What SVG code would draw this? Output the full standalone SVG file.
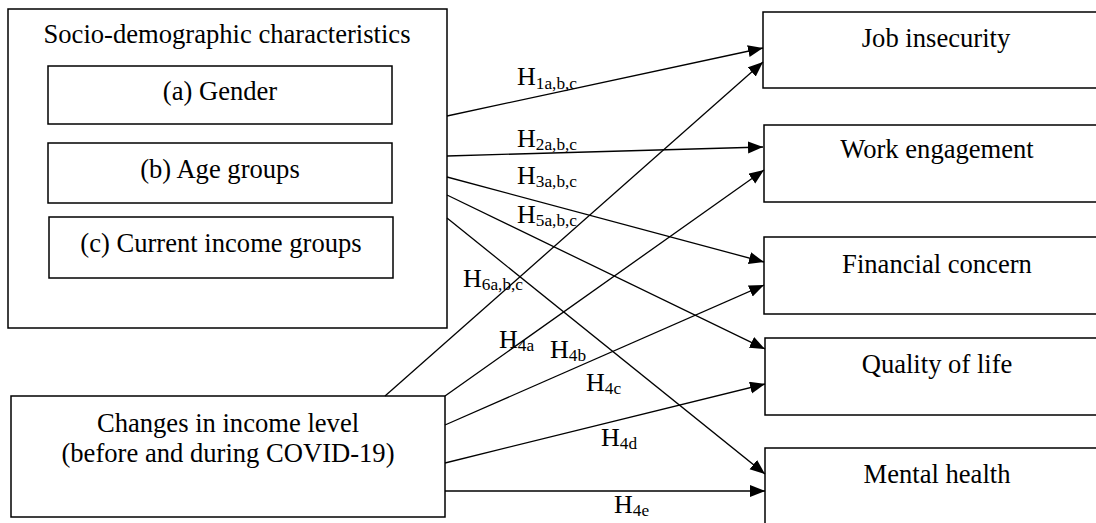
<svg xmlns="http://www.w3.org/2000/svg" width="1096" height="523" viewBox="0 0 1096 523">
<style>
.box{fill:#fff;stroke:#000;stroke-width:1.5}
.t{font-family:'Liberation Serif','Times New Roman',Times,'DejaVu Serif',serif;font-size:26.6px;fill:#000;text-anchor:middle}
.h{font-family:'Liberation Serif','Times New Roman',Times,'DejaVu Serif',serif;font-size:26px;fill:#000}
.s{font-size:17.3px}
.c{fill:none;stroke:#000;stroke-width:1.3;marker-end:url(#ah)}
</style>
<defs>
<marker id="ah" markerUnits="userSpaceOnUse" markerWidth="16" markerHeight="13" refX="15" refY="6" orient="auto">
<path d="M0,0 L15,6 L0,12 z" fill="#000"/>
</marker>
</defs>
<rect width="1096" height="523" fill="#fff"/>
<g id="socio">
<rect class="box" x="8" y="9" width="439" height="319"/>
<text class="t" x="227" y="43">Socio-demographic characteristics</text>
</g>
<g id="gender">
<rect class="box" x="48" y="66" width="344" height="58"/>
<text class="t" x="220" y="100">(a) Gender</text>
</g>
<g id="age">
<rect class="box" x="48" y="143" width="344" height="60"/>
<text class="t" x="220" y="178">(b) Age groups</text>
</g>
<g id="income">
<rect class="box" x="49" y="217" width="344" height="61"/>
<text class="t" x="221" y="252">(c) Current income groups</text>
</g>
<g id="changes">
<rect class="box" x="11" y="396" width="434" height="121"/>
<text class="t" x="228" y="432">Changes in income level</text>
<text class="t" x="228" y="462">(before and during COVID-19)</text>
</g>
<g id="job">
<rect class="box" x="763" y="12" width="350" height="76"/>
<text class="t" x="936" y="47">Job insecurity</text>
</g>
<g id="work">
<rect class="box" x="764" y="125" width="350" height="77"/>
<text class="t" x="937" y="158">Work engagement</text>
</g>
<g id="financial">
<rect class="box" x="764" y="237" width="350" height="77"/>
<text class="t" x="937" y="273">Financial concern</text>
</g>
<g id="quality">
<rect class="box" x="765" y="338" width="350" height="77"/>
<text class="t" x="937" y="373">Quality of life</text>
</g>
<g id="mental">
<rect class="box" x="765" y="448" width="350" height="100"/>
<text class="t" x="937" y="483">Mental health</text>
</g>
<g id="connectors">
<line class="c" x1="447" y1="116" x2="763" y2="48"/>
<line class="c" x1="447" y1="156" x2="763" y2="147"/>
<line class="c" x1="447" y1="177" x2="764" y2="262"/>
<line class="c" x1="447" y1="195" x2="765" y2="349"/>
<line class="c" x1="447" y1="218" x2="765" y2="474"/>
<line class="c" x1="385" y1="396" x2="763" y2="62"/>
<line class="c" x1="445" y1="396" x2="764" y2="170"/>
<line class="c" x1="445" y1="425" x2="764" y2="285"/>
<line class="c" x1="445" y1="463" x2="765" y2="384"/>
<line class="c" x1="445" y1="491" x2="765" y2="491"/>
</g>
<g id="labels">
<text class="h" x="517" y="85">H<tspan class="s" dy="4">1a,b,c</tspan></text>
<text class="h" x="517" y="147">H<tspan class="s" dy="3">2a,b,c</tspan></text>
<text class="h" x="517" y="184">H<tspan class="s" dy="3">3a,b,c</tspan></text>
<text class="h" x="517" y="223">H<tspan class="s" dy="3">5a,b,c</tspan></text>
<text class="h" x="463" y="287">H<tspan class="s" dy="3">6a,b,c</tspan></text>
<text class="h" x="499" y="348">H<tspan class="s" dy="3">4a</tspan></text>
<text class="h" x="550" y="358">H<tspan class="s" dy="3">4b</tspan></text>
<text class="h" x="586" y="391">H<tspan class="s" dy="3">4c</tspan></text>
<text class="h" x="601" y="446">H<tspan class="s" dy="3">4d</tspan></text>
<text class="h" x="614" y="513">H<tspan class="s" dy="3">4e</tspan></text>
</g>
</svg>
